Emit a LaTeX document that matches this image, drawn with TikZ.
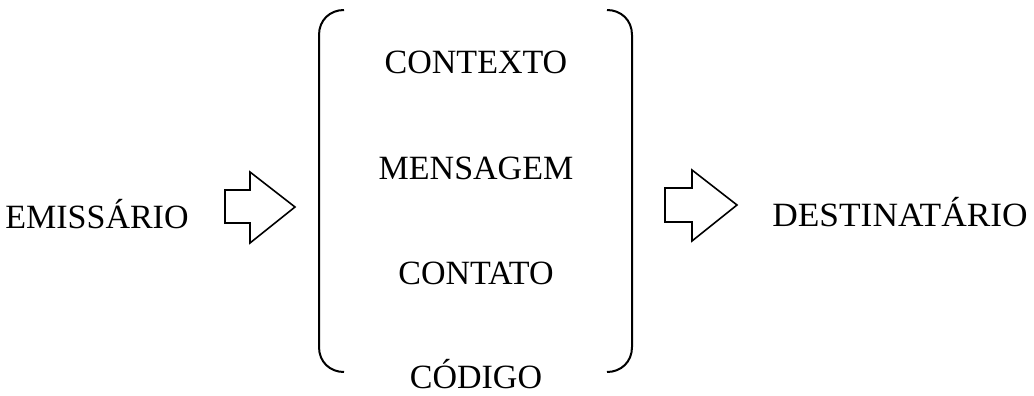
\documentclass[tikz,border=0pt]{standalone}
\usepackage{fontspec}
\setmainfont{Liberation Serif}
\begin{document}
\begin{tikzpicture}[x=1pt,y=-1pt,
  lbl/.style={font=\fontsize{34}{36}\selectfont, inner sep=0pt, anchor=base},
  brk/.style={line width=2pt},
  blockarrow/.style={line width=1.6pt, line join=miter}]
\useasboundingbox (0,0) rectangle (1034,396);
\node[lbl] (emi) at (97,228) {EMISSÁRIO};
\node[lbl] (ctx) at (476,74) {CONTEXTO};
\node[lbl] (men) at (476,179) {MENSAGEM};
\node[lbl] (cto) at (476,284) {CONTATO};
\node[lbl] (cod) at (476,388) {CÓDIGO};
\node[lbl, xscale=1.04] (dst) at (900,226) {DESTINATÁRIO};
% brackets
\draw[brk] (344,10) .. controls (330,10) and (319,20) .. (319,35) -- (319,347) .. controls (319,362) and (330,372) .. (344,372);
\draw[brk] (607,10) .. controls (621,10) and (632,20) .. (632,35) -- (632,347) .. controls (632,362) and (621,372) .. (607,372);
% block arrows
\draw[blockarrow] (225,190) -- (250,190) -- (250,172) -- (295,207) -- (250,243) -- (250,223) -- (225,223) -- cycle;
\draw[blockarrow] (665,188) -- (692,188) -- (692,170) -- (737,205) -- (692,241) -- (692,222) -- (665,222) -- cycle;
\end{tikzpicture}
\end{document}
